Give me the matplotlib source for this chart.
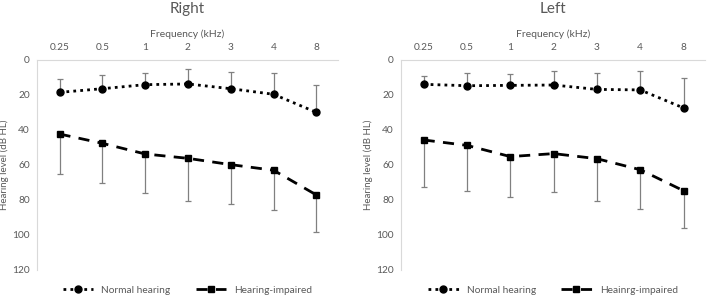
import numpy as np
import matplotlib.pyplot as plt

plt.rcParams['font.family'] = ['Lato', 'DejaVu Sans']

freqs = ["0.25", "0.5", "1", "2", "3", "4", "8"]

# right ear
right_normal = [18.5, 16.4, 14.1, 13.7, 16.4, 19.6, 29.9]
right_normal_top = [11.0, 8.8, 7.6, 5.1, 7.0, 7.6, 14.3]
right_impaired = [42.3, 47.6, 53.7, 56.2, 59.8, 63.0, 77.1]
right_impaired_bot = [65.1, 70.1, 76.2, 80.6, 82.5, 85.5, 98.5]

# left ear
left_normal = [13.9, 14.7, 14.5, 14.3, 16.8, 17.1, 27.4]
left_normal_top = [9.1, 7.6, 7.8, 6.3, 7.4, 6.1, 10.5]
left_impaired = [45.7, 48.8, 55.2, 53.5, 56.4, 62.7, 74.7]
left_impaired_bot = [72.4, 75.0, 78.1, 75.6, 80.4, 85.3, 96.2]

panels = [
    ("Right", right_normal, right_normal_top, right_impaired, right_impaired_bot,
     "Hearing-impaired", [0.052, 0.091, 0.425, 0.707]),
    ("Left", left_normal, left_normal_top, left_impaired, left_impaired_bot,
     "Heainrg-impaired", [0.566, 0.091, 0.43, 0.707]),
]

grey_txt = "#595959"
axis_col = "#d9d9d9"
err_col = "#808080"

fig = plt.figure(figsize=(7.08, 2.97), dpi=100)

for title, nh, nh_top, hi, hi_bot, hi_label, rect in panels:
    ax = fig.add_axes(rect)
    x = np.arange(len(freqs))
    nh = np.array(nh)
    hi = np.array(hi)

    # one-sided error bars: up for normal hearing, down for impaired
    ax.errorbar(x, nh, yerr=[nh - np.array(nh_top), np.zeros(len(x))],
                fmt="none", ecolor=err_col, elinewidth=0.9, capsize=2.5, capthick=0.9)
    ax.errorbar(x, hi, yerr=[np.zeros(len(x)), np.array(hi_bot) - hi],
                fmt="none", ecolor=err_col, elinewidth=0.9, capsize=2.5, capthick=0.9)

    ax.plot(x, nh, color="black", linestyle=(0, (1, 1.5)), linewidth=2,
            marker="o", markersize=5, label="Normal hearing")
    ax.plot(x, hi, color="black", linestyle=(0, (4, 3)), linewidth=2,
            marker="s", markersize=5, label=hi_label)

    ax.set_xlim(-0.53, 6.5)
    ax.set_ylim(120, 0)
    ax.set_yticks([0, 20, 40, 60, 80, 100, 120])
    ax.set_xticks(x)
    ax.set_xticklabels(freqs)
    ax.xaxis.tick_top()
    ax.xaxis.set_label_position("top")
    ax.set_xlabel("Frequency (kHz)", fontsize=7.5, color=grey_txt, labelpad=4)
    ax.set_ylabel("Hearing level (dB HL)", fontsize=7, color=grey_txt, labelpad=2)
    ax.tick_params(axis="x", length=0, labelsize=7.3, labelcolor=grey_txt, pad=6)
    ax.tick_params(axis="y", length=0, labelsize=7.3, labelcolor=grey_txt, pad=5)

    for side in ["right", "bottom"]:
        ax.spines[side].set_visible(False)
    ax.spines["top"].set_color(axis_col)
    ax.spines["left"].set_color(axis_col)

    ax.set_title(title, fontsize=11, color=grey_txt, pad=12)

    ax.legend(loc="upper center", bbox_to_anchor=(0.5, -0.055), ncol=2, frameon=False,
              fontsize=7.3, labelcolor=grey_txt, handlelength=3, columnspacing=2.5,
              borderaxespad=0)

fig.savefig("out.png", dpi=100)
